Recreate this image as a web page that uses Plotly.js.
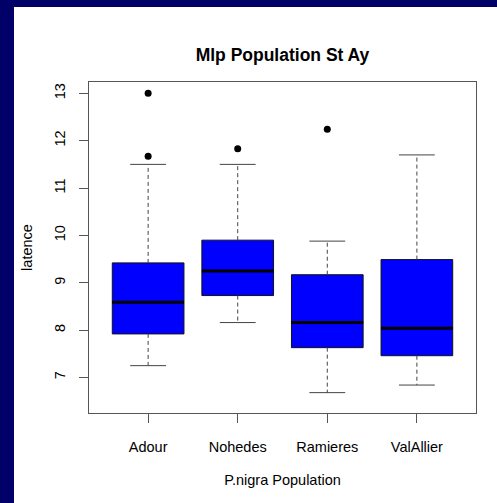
<!DOCTYPE html>
<html>
<head>
<meta charset="utf-8">
<script src="https://cdn.plot.ly/plotly-3.0.1.min.js"></script>
<style>
  html, body { margin: 0; padding: 0; background: #000068; width: 497px; height: 503px; overflow: hidden; }
  #chart { position: absolute; left: 14px; top: 7px; width: 483px; height: 496px; background: #ffffff; }
</style>
</head>
<body>
<div id="chart"></div>
<script>
// ---- data ----
const categories     = ['Adour', 'Nohedes', 'Ramieres', 'ValAllier'];
const lowerWhisker   = [7.25, 8.16, 6.68, 6.84];
const q1Values       = [7.92, 8.73, 7.63, 7.46];
const medianValues   = [8.59, 9.25, 8.16, 8.04];
const q3Values       = [9.42, 9.90, 9.17, 9.49];
const upperWhisker   = [11.50, 11.50, 9.88, 11.70];
const outlierGroup   = ['Adour', 'Adour', 'Nohedes', 'Ramieres'];
const outlierValue   = [13.00, 11.67, 11.83, 12.24];
const yTicks         = [7, 8, 9, 10, 11, 12, 13];

// ---- build traces ----
const pos = categories.map((c, i) => i + 1);
const boxHalf = 0.4, capHalf = 0.2;
const FONT = 'Liberation Sans, Arial, Helvetica, sans-serif';

const whiskX = [], whiskY = [], capX = [], capY = [], medX = [], medY = [];
pos.forEach((p, i) => {
  whiskX.push(p, p, null, p, p, null);
  whiskY.push(q3Values[i], upperWhisker[i], null, q1Values[i], lowerWhisker[i], null);
  capX.push(p - capHalf, p + capHalf, null, p - capHalf, p + capHalf, null);
  capY.push(upperWhisker[i], upperWhisker[i], null, lowerWhisker[i], lowerWhisker[i], null);
  medX.push(p - boxHalf, p + boxHalf, null);
  medY.push(medianValues[i], medianValues[i], null);
});
const outX = outlierGroup.map(g => categories.indexOf(g) + 1);

const traces = [
  { type: 'scatter', mode: 'lines', x: whiskX, y: whiskY, hoverinfo: 'skip',
    line: { color: '#444', width: 1, dash: '4px,3px' }, showlegend: false },
  { type: 'scatter', mode: 'lines', x: capX, y: capY, hoverinfo: 'skip',
    line: { color: '#444', width: 1 }, showlegend: false },
  { type: 'box', x: pos, q1: q1Values, median: medianValues, q3: q3Values,
    lowerfence: q1Values, upperfence: q3Values, width: 2 * boxHalf,
    whiskerwidth: 0, boxpoints: false, fillcolor: '#0000ff',
    line: { color: '#111', width: 1 }, hoverinfo: 'skip', showlegend: false },
  { type: 'scatter', mode: 'lines', x: medX, y: medY, hoverinfo: 'skip',
    line: { color: '#000', width: 3 }, showlegend: false },
  { type: 'scatter', mode: 'markers', x: outX, y: outlierValue, hoverinfo: 'skip',
    marker: { color: '#000', size: 7 }, showlegend: false }
];

const layout = {
  width: 483, height: 496,
  margin: { l: 75, r: 21, t: 75, b: 90 },
  paper_bgcolor: '#ffffff', plot_bgcolor: '#ffffff',
  font: { family: FONT, color: '#000', size: 14.5 },
  title: { text: '<b>Mlp Population St Ay</b>', font: { family: FONT, size: 17.5, color: '#000' },
           x: 0.5, xref: 'paper', y: 1 - 48 / 496, yref: 'container', yanchor: 'middle' },
  xaxis: { range: [0.34, 4.66], tickvals: pos, ticktext: categories,
           ticks: 'outside', ticklen: 9, tickcolor: '#555', tickwidth: 1,
           showline: true, mirror: true, linecolor: '#555', linewidth: 1,
           showgrid: false, zeroline: false, ticklabelstandoff: 12,
           tickfont: { size: 14.5 },
           title: { text: 'P.nigra Population', standoff: 20, font: { size: 14.5 } } },
  yaxis: { range: [6.25, 13.24], tickvals: yTicks, ticktext: yTicks.map(String), tickangle: -90,
           ticks: 'outside', ticklen: 9, tickcolor: '#555', tickwidth: 1,
           showline: true, mirror: true, linecolor: '#555', linewidth: 1,
           showgrid: false, zeroline: false, ticklabelstandoff: 8,
           tickfont: { size: 14.5 },
           title: { text: 'latence', standoff: 16, font: { size: 14.5 } } }
};

Plotly.newPlot('chart', traces, layout, { staticPlot: true, displayModeBar: false });
</script>
</body>
</html>
